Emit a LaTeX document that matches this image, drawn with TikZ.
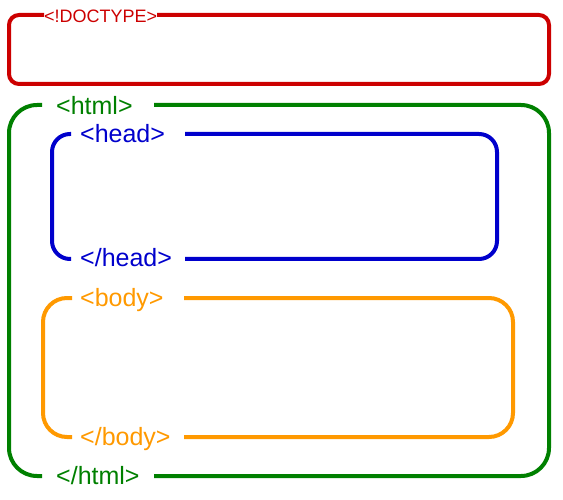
\documentclass[tikz,border=0pt]{standalone}
\usepackage{fontspec}
\setmainfont{Liberation Sans}
\definecolor{doctypered}{HTML}{CC0000}
\definecolor{htmlgreen}{HTML}{008000}
\definecolor{headblue}{HTML}{0000CC}
\definecolor{bodyorange}{HTML}{FF9900}
\tikzset{
  tagline/.style={line width=4pt},
  tag/.style={anchor=west, inner sep=0pt, text height=17pt, text depth=0pt, font=\fontsize{25}{30}\selectfont},
}
\begin{document}
\begin{tikzpicture}[x=1pt,y=-1pt]
  \useasboundingbox (0,0) rectangle (563,500);
  % doctype
  \path[draw=doctypered,tagline,rounded corners=10] (157,15) -- (549,15) -- (549,84) -- (9,84) -- (9,15) -- (44,15);
  \node[tag,text=doctypered,text height=13pt,font=\fontsize{18}{22}\selectfont] (doctype) at (44,16) {<!DOCTYPE>};
  % html
  \path[draw=htmlgreen,tagline,rounded corners=28] (42,105) -- (9,105) -- (9,476) -- (42,476);
  \path[draw=htmlgreen,tagline,rounded corners=28] (154,105) -- (549,105) -- (549,476) -- (154,476);
  \node[tag,text=htmlgreen] (htmlopen) at (56,106) {<html>};
  \node[tag,text=htmlgreen] (htmlclose) at (56,476) {</html>};
  % head
  \path[draw=headblue,tagline,rounded corners=18] (71,134) -- (52,134) -- (52,259) -- (71,259);
  \path[draw=headblue,tagline,rounded corners=18] (185,134) -- (497,134) -- (497,259) -- (185,259);
  \node[tag,text=headblue] (headopen) at (80,134) {<head>};
  \node[tag,text=headblue] (headclose) at (80,258) {</head>};
  % body
  \path[draw=bodyorange,tagline,rounded corners=24] (72,298) -- (43,298) -- (43,437) -- (72,437);
  \path[draw=bodyorange,tagline,rounded corners=24] (184,298) -- (513,298) -- (513,437) -- (184,437);
  \node[tag,text=bodyorange] (bodyopen) at (80,298) {<body>};
  \node[tag,text=bodyorange] (bodyclose) at (80,437) {</body>};
\end{tikzpicture}
\end{document}
